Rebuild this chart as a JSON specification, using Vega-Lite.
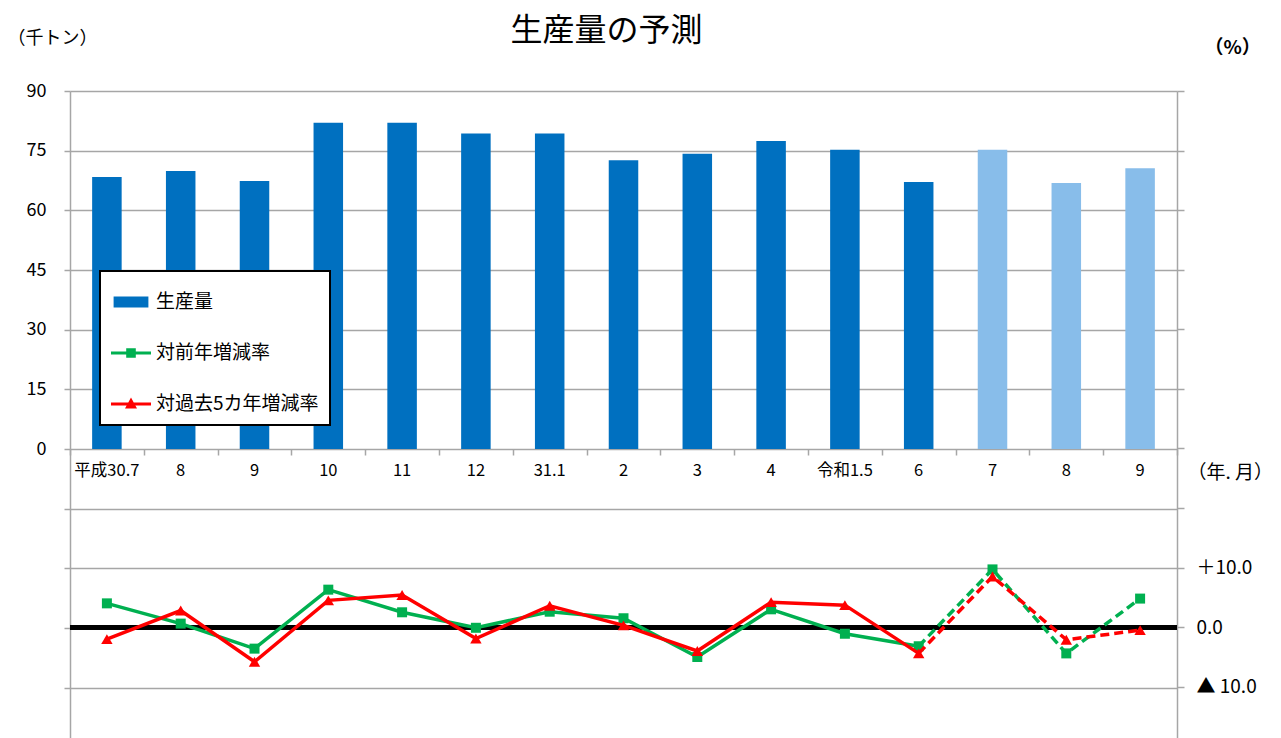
{
  "$schema": "https://vega.github.io/schema/vega-lite/v6.json",
  "width": 1107,
  "height": 647,
  "autosize": {"type": "none"},
  "padding": {"left": 70, "top": 91, "right": 104, "bottom": 0},
  "background": "white",
  "config": {"view": {"stroke": null}, "font": "Noto Sans CJK JP"},
  "title": {"text": "生産量の予測", "fontSize": 32, "fontWeight": "normal", "color": "black", "font": "Noto Sans CJK JP", "frame": "group", "anchor": "middle", "offset": -19, "dx": -17},
  "data": {
    "values": [
      {"i": 1, "label": "平成30.7", "区分": "実績", "生産量": 68.4, "対前年増減率": 4.0, "対過去5カ年増減率": -2.0},
      {"i": 2, "label": "8", "区分": "実績", "生産量": 69.9, "対前年増減率": 0.6, "対過去5カ年増減率": 2.8},
      {"i": 3, "label": "9", "区分": "実績", "生産量": 67.4, "対前年増減率": -3.6, "対過去5カ年増減率": -5.8},
      {"i": 4, "label": "10", "区分": "実績", "生産量": 82.0, "対前年増減率": 6.3, "対過去5カ年増減率": 4.5},
      {"i": 5, "label": "11", "区分": "実績", "生産量": 82.0, "対前年増減率": 2.5, "対過去5カ年増減率": 5.4},
      {"i": 6, "label": "12", "区分": "実績", "生産量": 79.3, "対前年増減率": -0.1, "対過去5カ年増減率": -1.9},
      {"i": 7, "label": "31.1", "区分": "実績", "生産量": 79.3, "対前年増減率": 2.6, "対過去5カ年増減率": 3.6},
      {"i": 8, "label": "2", "区分": "実績", "生産量": 72.6, "対前年増減率": 1.5, "対過去5カ年増減率": 0.3},
      {"i": 9, "label": "3", "区分": "実績", "生産量": 74.2, "対前年増減率": -5.0, "対過去5カ年増減率": -4.0},
      {"i": 10, "label": "4", "区分": "実績", "生産量": 77.4, "対前年増減率": 3.0, "対過去5カ年増減率": 4.2},
      {"i": 11, "label": "令和1.5", "区分": "実績", "生産量": 75.2, "対前年増減率": -1.1, "対過去5カ年増減率": 3.7},
      {"i": 12, "label": "6", "区分": "実績", "生産量": 67.1, "対前年増減率": -3.2, "対過去5カ年増減率": -4.4},
      {"i": 13, "label": "7", "区分": "予測", "生産量": 75.2, "対前年増減率": 9.7, "対過去5カ年増減率": 8.5},
      {"i": 14, "label": "8", "区分": "予測", "生産量": 66.9, "対前年増減率": -4.4, "対過去5カ年増減率": -2.1},
      {"i": 15, "label": "9", "区分": "予測", "生産量": 70.6, "対前年増減率": 4.8, "対過去5カ年増減率": -0.5}
    ]
  },
  "layer": [
    {
      "layer": [
        {
          "mark": {"type": "bar", "width": {"band": 0.4}},
          "encoding": {
            "x": {
              "field": "i", "type": "ordinal",
              "scale": {"paddingInner": 0, "paddingOuter": 0},
              "axis": {
                "orient": "bottom", "offset": -289, "labels": false, "domain": false, "grid": false,
                "ticks": true, "tickBand": "extent", "tickSize": 6, "tickColor": "#a6a6a6", "tickWidth": 1.5,
                "title": "（年. 月）", "titleX": 1117, "titleY": 23, "titleAlign": "left", "titleBaseline": "middle",
                "titleFontSize": 19, "titleFontWeight": "normal", "titleColor": "black", "titleFont": "Noto Sans CJK JP"
              }
            },
            "y": {
              "field": "生産量", "type": "quantitative",
              "scale": {"domain": [-72.65, 90], "nice": false, "zero": false},
              "axis": {
                "orient": "left",
                "values": [-60, -45, -30, -15, 0, 15, 30, 45, 60, 75, 90],
                "labelExpr": "datum.value >= 0 ? datum.label : ''",
                "grid": true, "gridColor": "#a6a6a6", "gridWidth": 1.5,
                "domainColor": "#a6a6a6", "domainWidth": 1.5,
                "tickColor": "#a6a6a6", "tickWidth": 1.5, "tickSize": 6,
                "labelFontSize": 18, "labelPadding": 18, "labelColor": "black", "labelFont": "Noto Sans CJK JP",
                "title": "（千トン）", "titleAngle": 0, "titleX": -63, "titleY": -53,
                "titleAlign": "left", "titleBaseline": "middle", "titleFontSize": 18,
                "titleFontWeight": "normal", "titleColor": "black", "titleFont": "Noto Sans CJK JP"
              }
            },
            "fill": {
              "condition": {"test": "datum['区分'] == '予測'", "value": "#88bdea"},
              "value": "#0070C0"
            }
          }
        },
        {
          "mark": {"type": "text", "fontSize": 16.5, "color": "black", "baseline": "middle", "font": "Noto Sans CJK JP"},
          "encoding": {
            "x": {"field": "i", "type": "ordinal"},
            "y": {"datum": -5.6, "type": "quantitative"},
            "text": {"field": "label"}
          }
        },
        {
          "data": {"values": [{"s": "生産量", "i": 2}, {"s": "対前年増減率", "i": 2}, {"s": "対過去5カ年増減率", "i": 2}]},
          "mark": {"type": "point", "filled": true, "opacity": 0, "size": 10},
          "encoding": {
            "x": {"field": "i", "type": "ordinal"},
            "y": {"datum": 30, "type": "quantitative"},
            "color": {
              "field": "s", "type": "nominal",
              "scale": {"domain": ["生産量", "対前年増減率", "対過去5カ年増減率"], "range": ["#0070C0", "#00B050", "#FF0000"]},
              "legend": {
                "orient": "none", "legendX": 30, "legendY": 180, "title": null,
                "strokeColor": "black", "fillColor": "white", "padding": 11,
                "symbolSize": 1600, "symbolStrokeWidth": 0, "symbolOpacity": 1,
                "rowPadding": 21, "labelOffset": 5, "labelFontSize": 19, "labelColor": "black",
                "labelFont": "Noto Sans CJK JP", "labelLimit": 300,
                "encode": {"legend": {"update": {"strokeWidth": {"value": 2}}}}
              }
            },
            "shape": {
              "field": "s", "type": "nominal",
              "scale": {
                "domain": ["生産量", "対前年増減率", "対過去5カ年増減率"],
                "range": [
                  "M-0.87,-0.27L0.87,-0.27L0.87,0.27L-0.87,0.27Z",
                  "M-1,-0.08L1,-0.08L1,0.08L-1,0.08Z M-0.24,-0.24L0.24,-0.24L0.24,0.24L-0.24,0.24Z",
                  "M-1,-0.08L1,-0.08L1,0.08L-1,0.08Z M0,-0.32L0.3,0.22L-0.3,0.22Z"
                ]
              },
              "legend": {
                "orient": "none", "legendX": 30, "legendY": 180, "title": null,
                "strokeColor": "black", "fillColor": "white", "padding": 11,
                "symbolSize": 1600, "symbolStrokeWidth": 0, "symbolOpacity": 1,
                "rowPadding": 21, "labelOffset": 5, "labelFontSize": 19, "labelColor": "black",
                "labelFont": "Noto Sans CJK JP", "labelLimit": 300,
                "encode": {"legend": {"update": {"strokeWidth": {"value": 2}}}}
              }
            }
          }
        }
      ]
    },
    {
      "layer": [
        {
          "mark": {"type": "rule", "color": "black", "strokeWidth": 4},
          "encoding": {
            "y": {"datum": 0, "type": "quantitative", "scale": {"domain": [-18.6, 90], "nice": false, "zero": false}}
          }
        },
        {
          "transform": [{"filter": "datum.i <= 12"}],
          "mark": {"type": "line", "color": "#00B050", "strokeWidth": 3.5},
          "encoding": {
            "x": {"field": "i", "type": "ordinal"},
            "y": {
              "field": "対前年増減率", "type": "quantitative",
              "scale": {"domain": [-18.6, 90], "nice": false, "zero": false},
              "axis": {
                "orient": "right",
                "values": [-10, 0, 10, 20, 30, 40, 50, 60, 70, 80, 90],
                "labelExpr": "datum.value == 10 ? '＋10.0' : datum.value == 0 ? '0.0' : datum.value == -10 ? '▲ 10.0' : ''",
                "grid": false,
                "domainColor": "#a6a6a6", "domainWidth": 1.5,
                "tickColor": "#a6a6a6", "tickWidth": 1.5, "tickSize": 7,
                "labelFontSize": 19, "labelPadding": 12, "labelColor": "black", "labelFont": "Noto Sans CJK JP",
                "title": "（%）", "titleAngle": 0, "titleX": 27, "titleY": -44,
                "titleAlign": "left", "titleBaseline": "middle", "titleFontSize": 19,
                "titleFontWeight": "bold", "titleColor": "black", "titleFont": "Noto Sans CJK JP"
              }
            }
          }
        },
        {
          "transform": [{"filter": "datum.i >= 12"}],
          "mark": {"type": "line", "color": "#00B050", "strokeWidth": 3.5, "strokeDash": [9, 5]},
          "encoding": {
            "x": {"field": "i", "type": "ordinal"},
            "y": {"field": "対前年増減率", "type": "quantitative"}
          }
        },
        {
          "mark": {"type": "point", "shape": "square", "filled": true, "size": 100, "color": "#00B050", "opacity": 1},
          "encoding": {
            "x": {"field": "i", "type": "ordinal"},
            "y": {"field": "対前年増減率", "type": "quantitative"}
          }
        },
        {
          "transform": [{"filter": "datum.i <= 12"}],
          "mark": {"type": "line", "color": "#FF0000", "strokeWidth": 3.5},
          "encoding": {
            "x": {"field": "i", "type": "ordinal"},
            "y": {"field": "対過去5カ年増減率", "type": "quantitative"}
          }
        },
        {
          "transform": [{"filter": "datum.i >= 12"}],
          "mark": {"type": "line", "color": "#FF0000", "strokeWidth": 3.5, "strokeDash": [9, 5]},
          "encoding": {
            "x": {"field": "i", "type": "ordinal"},
            "y": {"field": "対過去5カ年増減率", "type": "quantitative"}
          }
        },
        {
          "mark": {"type": "point", "shape": "triangle-up", "filled": true, "size": 130, "color": "#FF0000", "opacity": 1},
          "encoding": {
            "x": {"field": "i", "type": "ordinal"},
            "y": {"field": "対過去5カ年増減率", "type": "quantitative"}
          }
        }
      ]
    }
  ],
  "resolve": {"scale": {"y": "independent"}}
}
